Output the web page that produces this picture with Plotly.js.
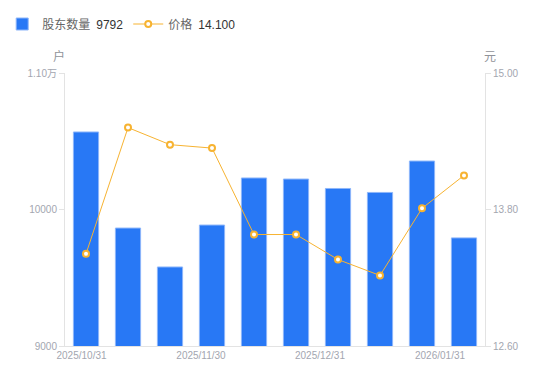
<!DOCTYPE html>
<html><head><meta charset="utf-8">
<script src="https://cdn.plot.ly/plotly-3.0.1.min.js"></script>
<style>html,body{margin:0;padding:0;background:#fff}#c{width:550px;height:381px}</style>
</head><body><div id="c"></div>
<script>
const dates = ["2025/10/31","2025/11/10","2025/11/20","2025/11/30","2025/12/10","2025/12/20","2025/12/31","2026/01/10","2026/01/20","2026/01/31"];
const holders = [10568, 9864, 9579, 9886, 10231, 10223, 10154, 10125, 10355, 9792];
const prices = [13.41, 14.52, 14.37, 14.34, 13.58, 13.58, 13.36, 13.22, 13.81, 14.10];
const xTickLabels = ["2025/10/31","2025/11/30","2025/12/31","2026/01/31"];
const leftTicks = [9000, 10000, 11000];
const leftTickText = ["9000", "10000", "1.10万"];
const rightTicks = [12.6, 13.8, 15.0];
const rightTickText = ["12.60", "13.80", "15.00"];

const FONT = "Liberation Sans, Arial, Noto Sans CJK SC, sans-serif";
const TICKC = "#a3a6b0";
const last = holders.length - 1;
const xTickPos = [-0.107, 2.738, 5.571, 8.429];

const data = [
  {type:"bar", x:dates, y:holders, yaxis:"y",
   name:"股东数量\u2002<span style='color:#333'>" + holders[last] + "</span>",
   marker:{color:"#2878F5", line:{color:"#8DB6FA", width:1}},
   hoverinfo:"x+y"},
  {type:"scatter", mode:"lines+markers", x:dates, y:prices, yaxis:"y2",
   name:"价格\u2002<span style='color:#333'>" + prices[last].toFixed(3) + "</span>",
   line:{color:"#F7B331", width:1},
   marker:{symbol:"circle", size:6, color:"#fff", line:{color:"#F7B331", width:2}}}
];

const layout = {
  width:550, height:381,
  margin:{l:65, r:65, t:73, b:35},
  paper_bgcolor:"#fff", plot_bgcolor:"#fff",
  font:{family:FONT, size:10, color:TICKC},
  bargap:0.4,
  showlegend:true,
  legend:{orientation:"h", xref:"container", yref:"container", x:0.004, xanchor:"left", y:0.937, yanchor:"middle",
          font:{size:12, color:"#666", family:FONT}, itemwidth:30, tracegroupgap:0},
  xaxis:{type:"category", tickmode:"array", tickvals:xTickPos, ticktext:xTickLabels,
         showgrid:false, zeroline:false, showline:true, linecolor:"#e3e3e3", linewidth:1,
         ticks:"", tickfont:{size:10, color:TICKC}, range:[-0.5, 9.5], fixedrange:true},
  yaxis:{range:[9000, 11000], tickmode:"array", tickvals:leftTicks, ticktext:leftTickText,
         showgrid:false, zeroline:false, showline:true, linecolor:"#e3e3e3", linewidth:1,
         ticks:"outside", ticklen:5, tickcolor:"#e3e3e3", tickfont:{size:10, color:TICKC}},
  yaxis2:{range:[12.6, 15.0], overlaying:"y", side:"right", tickmode:"array",
          tickvals:rightTicks, ticktext:rightTickText,
          showgrid:false, zeroline:false, showline:true, linecolor:"#e3e3e3", linewidth:1,
          ticks:"outside", ticklen:5, tickcolor:"#e3e3e3", tickfont:{size:10, color:TICKC}},
  annotations:[
    {text:"户", xref:"paper", yref:"paper", x:-0.015, y:1.06, xanchor:"center", yanchor:"middle",
     showarrow:false, font:{size:12, color:"#909399", family:FONT}},
    {text:"元", xref:"paper", yref:"paper", x:1.012, y:1.06, xanchor:"center", yanchor:"middle",
     showarrow:false, font:{size:12, color:"#909399", family:FONT}}
  ]
};

Plotly.newPlot("c", data, layout, {displayModeBar:false, staticPlot:true});
</script></body></html>
